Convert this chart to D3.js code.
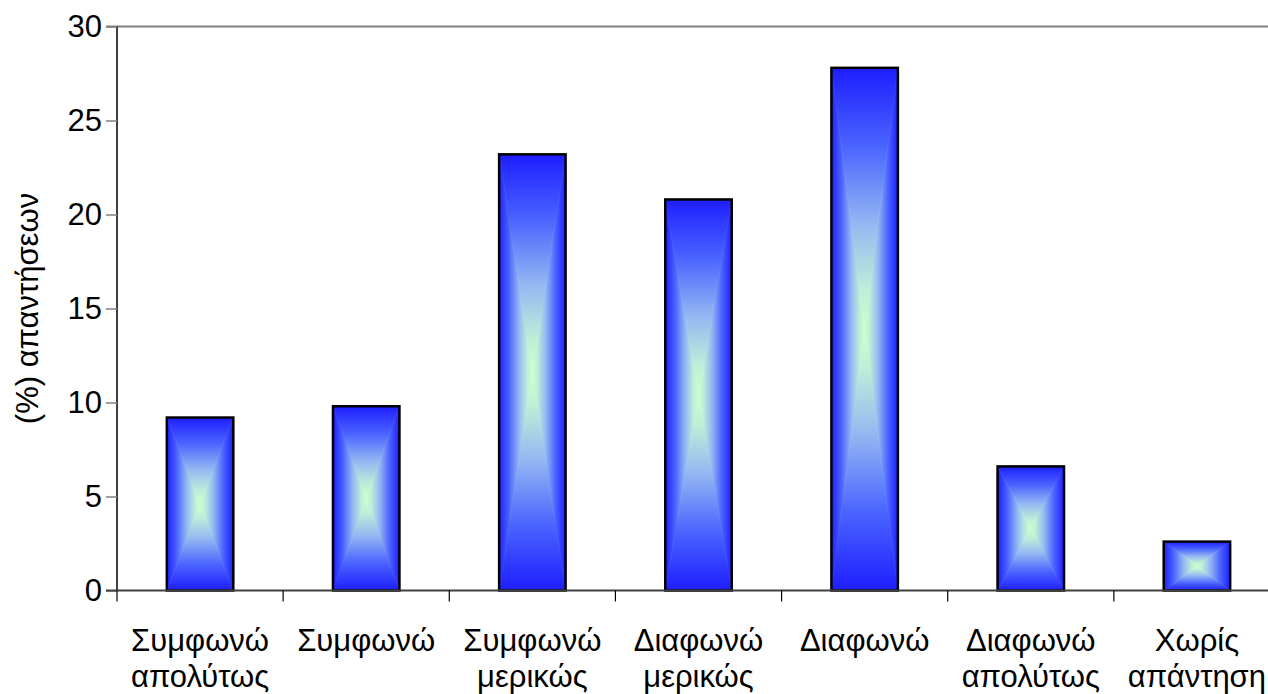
<!DOCTYPE html>
<html>
<head>
<meta charset="utf-8">
<script src="https://cdn.jsdelivr.net/npm/d3@7"></script>
<style>
  html, body { margin: 0; padding: 0; background: #fff; }
  svg { display: block; font-family: "Liberation Sans", Arial, sans-serif; }
</style>
</head>
<body>
<svg id="chart" width="1268" height="694"></svg>
<script>
// Survey answers (percentage of responses)
const categories = [
  ["Συμφωνώ", "απολύτως"],
  ["Συμφωνώ"],
  ["Συμφωνώ", "μερικώς"],
  ["Διαφωνώ", "μερικώς"],
  ["Διαφωνώ"],
  ["Διαφωνώ", "απολύτως"],
  ["Χωρίς", "απάντηση"]
];
const values = [9.2, 9.8, 23.2, 20.8, 27.8, 6.6, 2.6];
const yTicks = [0, 5, 10, 15, 20, 25, 30];
const yLabel = "(%) απαντήσεων";

const svg = d3.select("#chart");
const plotLeft = 117, plotRight = 1280, plotTop = 26.5, plotBottom = 590.5;
const fontSize = 31;

const x = d3.scaleBand().domain(d3.range(values.length)).range([plotLeft, plotRight]);
const y = d3.scaleLinear().domain([0, 30]).range([plotBottom, plotTop]);

// edge -> centre colour ramp of the bar shading
const rampStops = [[0, "#1e1eff"], [0.3, "#4a64ff"], [0.6, "#94b8f2"], [0.85, "#bdefd8"], [1, "#ccffcc"]];
const defs = svg.append("defs");

// Linear gradient in user space from (x1,y1) [edge colour] to (x2,y2) [centre colour]
function makeGrad(id, x1, y1, x2, y2) {
  const g = defs.append("linearGradient").attr("id", id)
    .attr("gradientUnits", "userSpaceOnUse")
    .attr("x1", x1).attr("y1", y1).attr("x2", x2).attr("y2", y2);
  rampStops.forEach(([o, c]) => g.append("stop").attr("offset", o).attr("stop-color", c));
  return `url(#${id})`;
}

// top border line of the plot area
svg.append("line").attr("x1", plotLeft - 11).attr("x2", 1268).attr("y1", plotTop).attr("y2", plotTop)
  .attr("stroke", "#808080").attr("stroke-width", 2);

const bw = x.bandwidth() / 2.5;
const bars = svg.append("g");
const line = d3.line();
values.forEach((v, i) => {
  const x0 = x(i) + (x.bandwidth() - bw) / 2, x1 = x0 + bw;
  const y0 = y(v), y1 = y(0);
  const cx = (x0 + x1) / 2, cy = (y0 + y1) / 2;
  const g = bars.append("g");
  // rectangular "from centre" shading: four triangles meeting in the middle
  const parts = [
    [[[x0, y0], [x1, y0], [cx, cy]], makeGrad(`t${i}`, 0, y0, 0, cy)],
    [[[x0, y1], [x1, y1], [cx, cy]], makeGrad(`b${i}`, 0, y1, 0, cy)],
    [[[x0, y0], [x0, y1], [cx, cy]], makeGrad(`l${i}`, x0, 0, cx, 0)],
    [[[x1, y0], [x1, y1], [cx, cy]], makeGrad(`r${i}`, x1, 0, cx, 0)]
  ];
  parts.forEach(([p, f]) => {
    g.append("path").attr("d", line(p) + "Z").attr("fill", f).attr("stroke", f).attr("stroke-width", 0.6);
  });
  g.append("rect").attr("x", x0).attr("y", y0).attr("width", bw).attr("height", y1 - y0)
    .attr("fill", "none").attr("stroke", "#000").attr("stroke-width", 2.5);
});

// Y axis
const yAxis = svg.append("g").attr("transform", `translate(${plotLeft},0)`)
  .call(d3.axisLeft(y).tickValues(yTicks).tickSize(11).tickPadding(4));
yAxis.select(".domain").attr("d", `M0,${plotTop}V${plotBottom}`).attr("stroke", "#000").attr("stroke-width", 1.5);
yAxis.selectAll(".tick line").attr("stroke", "#808080").attr("stroke-width", 1.5);
yAxis.selectAll(".tick text").attr("font-size", fontSize).attr("fill", "#000")
  .attr("font-family", "Liberation Sans, Arial, sans-serif");

// X axis baseline and category separators
svg.append("line").attr("x1", plotLeft - 11).attr("x2", 1268).attr("y1", plotBottom).attr("y2", plotBottom)
  .attr("stroke", "#404040").attr("stroke-width", 2);
const seps = d3.range(values.length).map(i => x(i)).concat([plotRight]);
svg.append("g").selectAll("line").data(seps).join("line")
  .attr("x1", d => d).attr("x2", d => d).attr("y1", plotBottom).attr("y2", plotBottom + 11)
  .attr("stroke", "#000").attr("stroke-width", 1.2);

// Category labels
const lab = svg.append("g").attr("font-size", fontSize).attr("fill", "#000").attr("text-anchor", "middle");
categories.forEach((lines, i) => {
  const cxl = x(i) + x.bandwidth() / 2;
  const t = lab.append("text").attr("x", cxl).attr("y", 651);
  lines.forEach((s, j) => t.append("tspan").attr("x", cxl).attr("dy", j ? 36 : 0).text(s));
});

// Y axis title
svg.append("text").attr("transform", `translate(38,${(plotTop + plotBottom) / 2}) rotate(-90)`)
  .attr("text-anchor", "middle").attr("font-size", fontSize).attr("fill", "#000").text(yLabel);
</script>
</body>
</html>
